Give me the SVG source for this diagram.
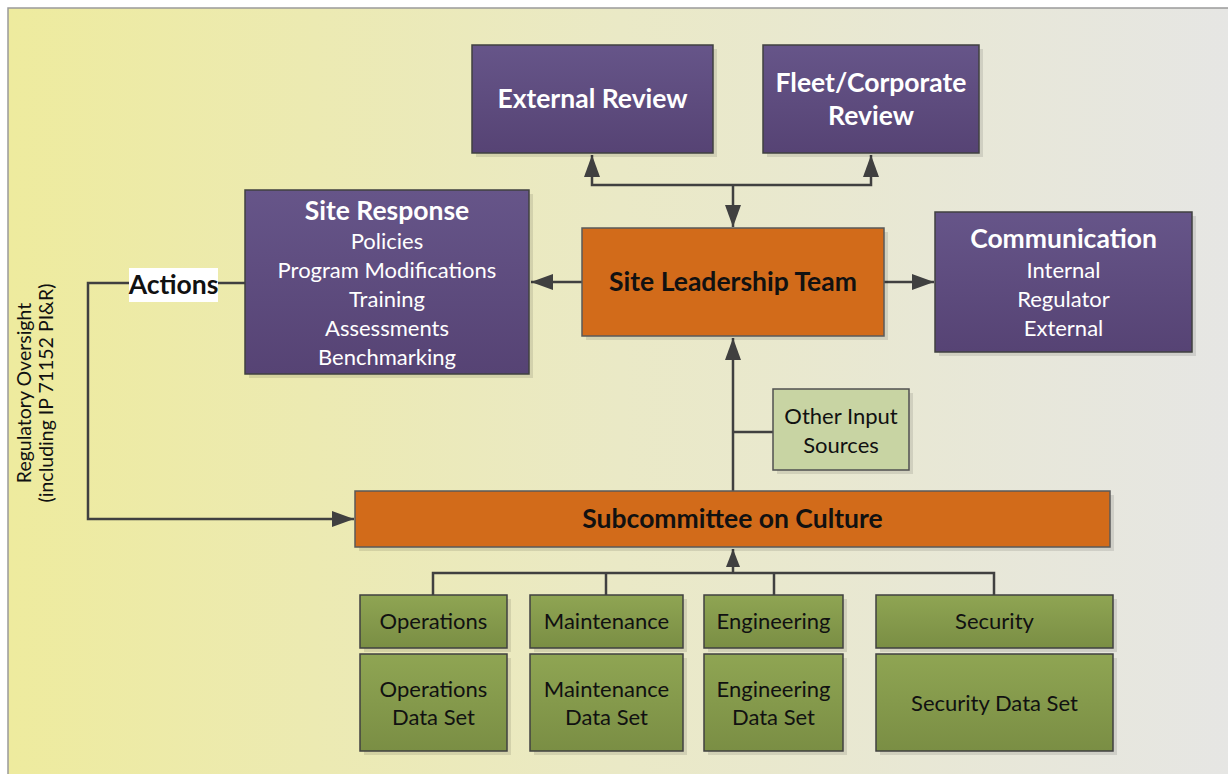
<svg xmlns="http://www.w3.org/2000/svg" width="1228" height="774" viewBox="0 0 1228 774">
<defs>
<linearGradient id="bg" x1="0" y1="0" x2="1" y2="0">
<stop offset="0" stop-color="#EEEB9E"/>
<stop offset="0.5" stop-color="#EAE9C6"/>
<stop offset="1" stop-color="#E6E6E4"/>
</linearGradient>
<linearGradient id="purple" x1="0" y1="0" x2="0" y2="1">
<stop offset="0" stop-color="#665589"/>
<stop offset="1" stop-color="#564374"/>
</linearGradient>
<linearGradient id="green" x1="0" y1="0" x2="0" y2="1">
<stop offset="0" stop-color="#8FA553"/>
<stop offset="1" stop-color="#7A8E44"/>
</linearGradient>
<marker id="arr" markerUnits="userSpaceOnUse" markerWidth="24" markerHeight="18" refX="22" refY="9" orient="auto">
<path d="M0,1 L22,9 L0,17 Z" fill="#404040"/>
</marker>
<marker id="arrs" markerUnits="userSpaceOnUse" markerWidth="20" markerHeight="16" refX="18" refY="8" orient="auto">
<path d="M0,1 L18,8 L0,15 Z" fill="#404040"/>
</marker>
</defs>
<style>
.shadow{fill:#000;opacity:0.1}
.pbox{fill:url(#purple);stroke:#404040;stroke-width:1.5}
.obox{fill:#D26B1A;stroke:#5A5A5A;stroke-width:1.5}
.gbox{fill:url(#green);stroke:#404040;stroke-width:1.5}
.lbox{fill:#C8D4A3;stroke:#505050;stroke-width:1.5}
.t{font-family:Lato,"Open Sans",sans-serif;text-anchor:middle}
.wt{fill:#fff}
.b{font-weight:bold;font-size:26.5px}
.n{font-size:22px}
.bk{fill:#111}
.line{fill:none;stroke:#404040;stroke-width:2.5}
</style>
<rect x="0" y="0" width="1228" height="774" fill="#fff"/>
<rect x="8" y="8" width="1225" height="770" fill="url(#bg)" stroke="#9A9A9A" stroke-width="1.5"/>

<g id="connectors">
<polyline class="line" points="733,185 592,185 592,155" marker-end="url(#arr)"/>
<polyline class="line" points="733,185 871,185 871,155" marker-end="url(#arr)"/>
<line class="line" x1="733" y1="185" x2="733" y2="227" marker-end="url(#arr)"/>
<line class="line" x1="582" y1="282" x2="531" y2="282" marker-end="url(#arr)"/>
<line class="line" x1="884" y1="282" x2="934" y2="282" marker-end="url(#arr)"/>
<line class="line" x1="733" y1="491" x2="733" y2="338" marker-end="url(#arr)"/>
<line class="line" x1="733" y1="432" x2="773" y2="432"/>
<polyline class="line" points="245,283 88,283 88,519 354,519" marker-end="url(#arr)"/>
<line class="line" x1="733" y1="573" x2="733" y2="549" marker-end="url(#arrs)"/>
<polyline class="line" points="433,595 433,573 994,573 994,595"/>
<line class="line" x1="606" y1="573" x2="606" y2="595"/>
<line class="line" x1="774" y1="573" x2="774" y2="595"/>
</g>

<g id="actions">
<rect x="129" y="268" width="89" height="34" fill="#fff"/>
<text class="t b bk" x="173.5" y="294">Actions</text>
</g>

<g id="external-review">
<rect class="shadow" x="476" y="49" width="241" height="108"/>
<rect class="pbox" x="472" y="45" width="241" height="108"/>
<text class="t b wt" x="592.5" y="108">External Review</text>
</g>

<g id="fleet-review">
<rect class="shadow" x="767" y="49" width="216" height="108"/>
<rect class="pbox" x="763" y="45" width="216" height="108"/>
<text class="t b wt" x="871" y="92">Fleet/Corporate</text>
<text class="t b wt" x="871" y="125">Review</text>
</g>

<g id="site-response">
<rect class="shadow" x="249" y="194" width="284" height="184"/>
<rect class="pbox" x="245" y="190" width="284" height="184"/>
<text class="t b wt" x="387" y="220">Site Response</text>
<text class="t n wt" x="387" y="249">Policies</text>
<text class="t n wt" x="387" y="278">Program Modifications</text>
<text class="t n wt" x="387" y="307">Training</text>
<text class="t n wt" x="387" y="336">Assessments</text>
<text class="t n wt" x="387" y="365">Benchmarking</text>
</g>

<g id="site-leadership">
<rect class="shadow" x="586" y="232" width="302" height="108"/>
<rect class="obox" x="582" y="228" width="302" height="108"/>
<text class="t b bk" x="733" y="291">Site Leadership Team</text>
</g>

<g id="communication">
<rect class="shadow" x="939" y="216" width="257" height="140"/>
<rect class="pbox" x="935" y="212" width="257" height="140"/>
<text class="t b wt" x="1063.5" y="248">Communication</text>
<text class="t n wt" x="1063.5" y="278">Internal</text>
<text class="t n wt" x="1063.5" y="307">Regulator</text>
<text class="t n wt" x="1063.5" y="336">External</text>
</g>

<g id="other-input">
<rect class="shadow" x="777" y="393" width="136" height="81"/>
<rect class="lbox" x="773" y="389" width="136" height="81"/>
<text class="t n bk" x="841" y="424">Other Input</text>
<text class="t n bk" x="841" y="453">Sources</text>
</g>

<g id="subcommittee">
<rect class="shadow" x="359" y="495" width="755" height="56"/>
<rect class="obox" x="355" y="491" width="755" height="56"/>
<text class="t b bk" x="732.5" y="528">Subcommittee on Culture</text>
</g>

<g id="regulatory">
<text class="t bk" font-size="19.5" transform="translate(31,393) rotate(-90)">Regulatory Oversight</text>
<text class="t bk" font-size="19.5" transform="translate(53,393) rotate(-90)">(including IP 71152 PI&amp;R)</text>
</g>

<g id="operations">
<rect class="shadow" x="364" y="599" width="147" height="53"/>
<rect class="gbox" x="360" y="595" width="147" height="53"/>
<text class="t n bk" x="433.5" y="629">Operations</text>
</g>
<g id="operations-data">
<rect class="shadow" x="364" y="658" width="147" height="97"/>
<rect class="gbox" x="360" y="654" width="147" height="97"/>
<text class="t n bk" x="433.5" y="697">Operations</text>
<text class="t n bk" x="433.5" y="725">Data Set</text>
</g>

<g id="maintenance">
<rect class="shadow" x="534" y="599" width="153" height="53"/>
<rect class="gbox" x="530" y="595" width="153" height="53"/>
<text class="t n bk" x="606.5" y="629">Maintenance</text>
</g>
<g id="maintenance-data">
<rect class="shadow" x="534" y="658" width="153" height="97"/>
<rect class="gbox" x="530" y="654" width="153" height="97"/>
<text class="t n bk" x="606.5" y="697">Maintenance</text>
<text class="t n bk" x="606.5" y="725">Data Set</text>
</g>

<g id="engineering">
<rect class="shadow" x="708" y="599" width="139" height="53"/>
<rect class="gbox" x="704" y="595" width="139" height="53"/>
<text class="t n bk" x="773.5" y="629">Engineering</text>
</g>
<g id="engineering-data">
<rect class="shadow" x="708" y="658" width="139" height="97"/>
<rect class="gbox" x="704" y="654" width="139" height="97"/>
<text class="t n bk" x="773.5" y="697">Engineering</text>
<text class="t n bk" x="773.5" y="725">Data Set</text>
</g>

<g id="security">
<rect class="shadow" x="880" y="599" width="237" height="53"/>
<rect class="gbox" x="876" y="595" width="237" height="53"/>
<text class="t n bk" x="994.5" y="629">Security</text>
</g>
<g id="security-data">
<rect class="shadow" x="880" y="658" width="237" height="97"/>
<rect class="gbox" x="876" y="654" width="237" height="97"/>
<text class="t n bk" x="994.5" y="711">Security Data Set</text>
</g>
</svg>
